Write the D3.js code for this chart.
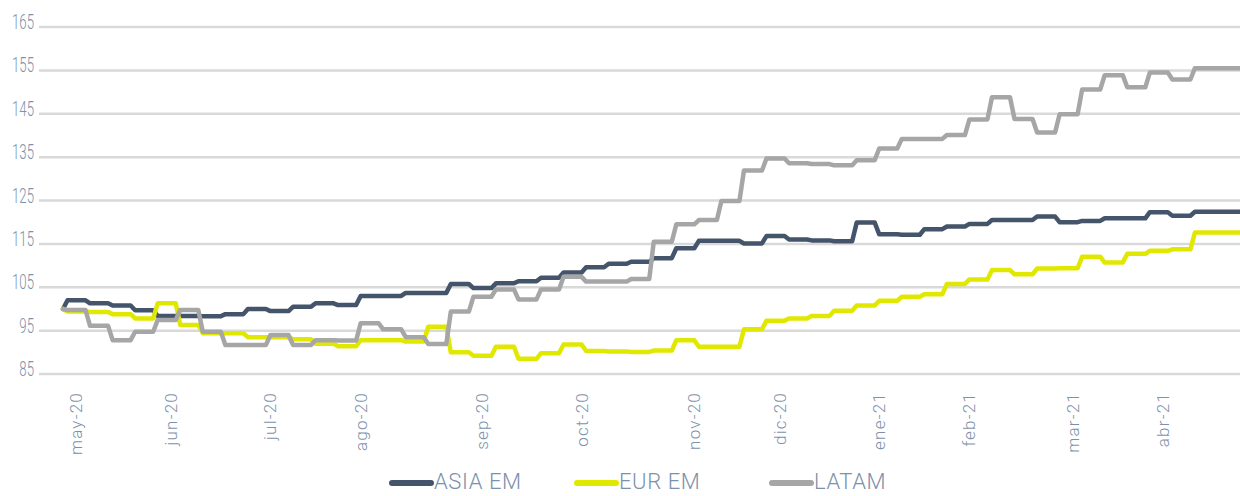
<!DOCTYPE html>
<html>
<head>
<meta charset="utf-8">
<script src="https://cdn.jsdelivr.net/npm/d3@7"></script>
<style>
    body { margin: 0; background: #fff; }
    svg { display: block; font-family: Roboto, "Liberation Sans", sans-serif; }
</style>
</head>
<body>
<div id="chart"></div>
<script>
// weekly index levels (base 100), one value per week
const asiaEM = [102.0, 101.3, 100.8, 99.7, 98.4, 98.4, 98.3, 98.8, 100.0, 99.5, 100.5, 101.3, 100.9,
    103.0, 103.0, 103.7, 103.7, 105.75, 104.8, 105.9, 106.4, 107.2, 108.4, 109.6, 110.4, 110.9, 111.7,
    114.0, 115.7, 115.7, 115.1, 116.8, 116.0, 115.8, 115.6, 119.9, 117.2, 117.1, 118.4, 119.0, 119.6,
    120.5, 120.5, 121.3, 120.0, 120.3, 120.9, 120.9, 122.3, 121.5, 122.4, 122.4];
const eurEM = [99.4, 99.3, 98.8, 97.8, 101.3, 96.3, 94.4, 94.4, 93.5, 93.5, 93.0, 92.0, 91.4,
    92.8, 92.8, 92.5, 95.9, 90.0, 89.2, 91.3, 88.5, 89.8, 91.8, 90.3, 90.2, 90.1, 90.4,
    92.8, 91.3, 91.3, 95.3, 97.3, 97.8, 98.4, 99.6, 100.8, 101.9, 102.8, 103.4, 105.75, 106.8,
    108.95, 108.0, 109.3, 109.4, 112.05, 110.7, 112.7, 113.4, 113.75, 117.6, 117.6];
const latam = [99.75, 96.1, 92.8, 94.75, 97.45, 99.75, 94.75, 91.7, 91.7, 94.0, 91.7, 92.8, 92.7,
    96.7, 95.3, 93.5, 91.9, 99.4, 102.8, 104.5, 102.2, 104.5, 107.4, 106.3, 106.3, 106.9, 115.5,
    119.5, 120.5, 124.9, 131.9, 134.7, 133.6, 133.4, 133.1, 134.3, 137.0, 139.2, 139.2, 140.1, 143.7,
    148.8, 143.8, 140.7, 144.9, 150.6, 153.9, 151.1, 154.5, 152.9, 155.5, 155.5];

const seriesNames = ["ASIA EM", "EUR EM", "LATAM"];
const seriesColors = ["#44546a", "#e1e800", "#a6a6a6"];

// category axis labels and the business day they sit on
const tickLabels = ["may-20", "jun-20", "jul-20", "ago-20", "sep-20", "oct-20",
    "nov-20", "dic-20", "ene-21", "feb-21", "mar-21", "abr-21"];
const tickDays = [3, 24, 46, 66, 93, 115, 140, 159, 181, 201, 224, 244];
const yTicks = [85, 95, 105, 115, 125, 135, 145, 155, 165];

const baseValue = 100;
const lastDay = 261;

const width = 1240,
    height = 496;

const svg = d3.select("#chart")
    .append("svg")
    .attr("width", width)
    .attr("height", height);

const x = d3.scaleLinear().domain([0, lastDay]).range([63, 1240]);
const y = d3.scaleLinear().domain([85, 165]).range([374, 27]);

// gridlines
svg.append("g")
    .selectAll("line")
    .data(yTicks)
    .enter()
    .append("line")
    .attr("x1", 39)
    .attr("x2", width)
    .attr("y1", d => y(d))
    .attr("y2", d => y(d))
    .attr("stroke", "#d9d9d9")
    .attr("stroke-width", 2.5);

// y labels (narrow face)
svg.append("g")
    .selectAll("text")
    .data(yTicks)
    .enter()
    .append("text")
    .attr("transform", d => `translate(34,${y(d) + 2}) scale(0.66,1)`)
    .attr("text-anchor", "end")
    .attr("font-size", 20)
    .attr("font-weight", 300)
    .attr("fill", "#7d91aa")
    .text(d => d);

// x labels, rotated
svg.append("g")
    .selectAll("text")
    .data(tickDays)
    .enter()
    .append("text")
    .attr("transform", d => `translate(${x(d)},392) rotate(-90)`)
    .attr("text-anchor", "end")
    .attr("dy", "0.35em")
    .attr("font-size", 17)
    .attr("font-weight", 300)
    .attr("letter-spacing", 1.2)
    .attr("fill", "#7d91aa")
    .text((d, i) => tickLabels[i]);

// each week holds from day 1+5k to day 5+5k
const toPoints = values => {
    const pts = [[0, baseValue]];
    values.forEach((v, k) => {
        pts.push([1 + 5 * k, v]);
        pts.push([k === values.length - 1 ? lastDay : 5 + 5 * k, v]);
    });
    return pts;
};

const line = d3.line()
    .x(d => x(d[0]))
    .y(d => y(d[1]));

[asiaEM, eurEM, latam].forEach((values, i) => {
    svg.append("path")
        .datum(toPoints(values))
        .attr("fill", "none")
        .attr("stroke", seriesColors[i])
        .attr("stroke-width", 4.5)
        .attr("stroke-linejoin", "round")
        .attr("stroke-linecap", "round")
        .attr("d", line);
});

// legend
const legendX = [390, 575, 770];
const legend = svg.append("g")
    .selectAll("g")
    .data(seriesNames)
    .enter()
    .append("g")
    .attr("transform", (d, i) => `translate(${legendX[i]},483)`);

legend.append("line")
    .attr("x1", 2)
    .attr("x2", 41)
    .attr("stroke", (d, i) => seriesColors[i])
    .attr("stroke-width", 6)
    .attr("stroke-linecap", "round");

legend.append("text")
    .attr("x", 44)
    .attr("y", 6)
    .attr("font-size", 22)
    .attr("font-weight", 300)
    .attr("letter-spacing", 0.6)
    .attr("fill", "#7d91aa")
    .text(d => d);
</script>
</body>
</html>
